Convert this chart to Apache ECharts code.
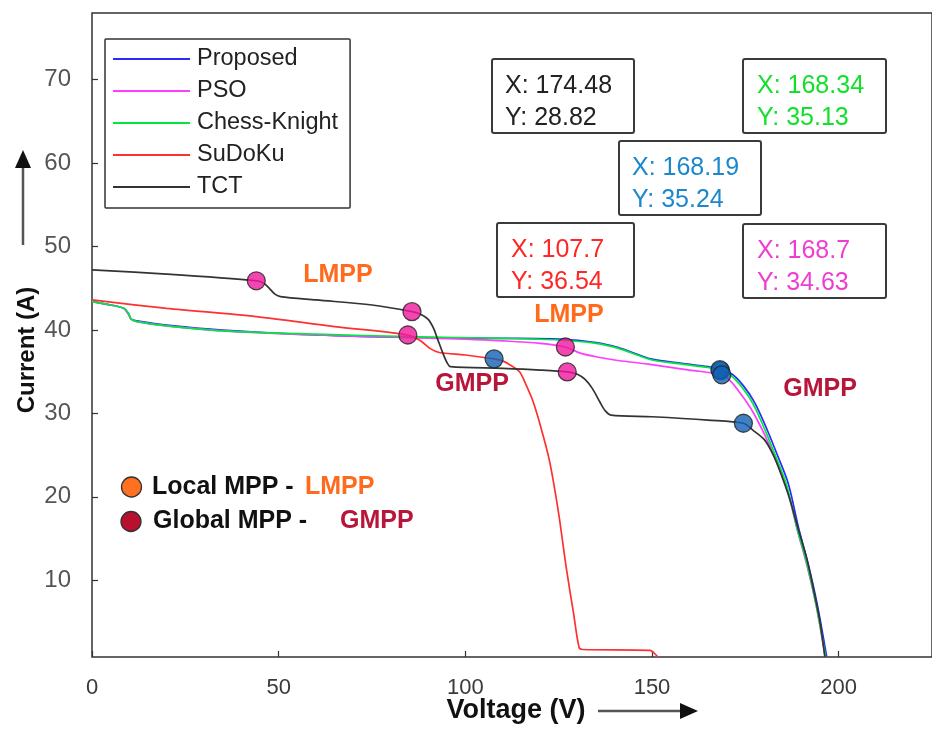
<!DOCTYPE html>
<html>
<head>
<meta charset="utf-8">
<script src="https://cdn.jsdelivr.net/npm/echarts@6/dist/echarts.min.js"></script>
<style>
  html, body { margin: 0; padding: 0; background: #fff; }
  #chart { width: 932px; height: 740px; }
</style>
</head>
<body>
<div id="chart"></div>
<script>
// I-V characteristics of the PV array under partial shading, per reconfiguration scheme.
// Each curve: [voltage (V), current (A)]
const proposed = [
  [0, 43.4], [5, 43.0], [8.5, 42.6], [9.8, 41.9], [10.5, 41.3], [12, 41.1], [20, 40.6],
  [35, 40.0], [60, 39.4], [85, 39.1], [110, 39.0], [125, 38.9], [135, 38.5], [141, 37.9],
  [146, 37.1], [150, 36.5], [158, 36.0], [165, 35.6], [168.19, 35.24], [171.5, 34.7],
  [174.5, 33.3], [177.5, 31.3], [180.5, 28.4], [183.5, 25.1], [186.5, 21.6], [189.3, 16.2],
  [191.8, 12.0], [194.3, 7.0], [196.8, 0.8]
];
const pso = [
  [0, 43.4], [5, 43.0], [8.5, 42.6], [9.8, 41.9], [10.5, 41.3], [12, 41.0], [20, 40.5],
  [35, 39.9], [60, 39.4], [85, 39.1], [100, 38.9], [110, 38.7], [120, 38.4], [126.8, 37.96],
  [131, 37.2], [136, 36.7], [140, 36.4], [149, 35.9], [160, 35.2], [168.7, 34.63], [171, 33.9],
  [174, 32.2], [177, 30.2], [180, 27.6], [183, 24.6], [186, 21.2], [189, 15.9], [191.5, 11.8],
  [194, 6.9], [196.4, 0.8]
];
const chessKnight = [
  [0, 43.4], [5, 43.0], [8.5, 42.6], [9.8, 42.0], [10.5, 41.3], [12, 41.0], [20, 40.5],
  [35, 39.9], [60, 39.5], [85, 39.2], [110, 39.0], [125, 38.8], [135, 38.4], [141, 37.8],
  [146, 37.0], [150, 36.4], [158, 35.9], [165, 35.5], [168.34, 35.13], [171, 34.6],
  [174, 33.2], [177, 31.2], [180, 28.3], [183, 25.0], [186, 21.5], [189, 16.0],
  [191.5, 12.0], [194, 7.0], [196.5, 0.8]
];
const sudoku = [
  [0, 43.6], [20, 42.6], [44, 41.6], [65, 40.4], [84.6, 39.4], [88, 38.7], [90.5, 37.8],
  [93, 37.3], [100, 37.0], [107.7, 36.54], [110, 36.3], [112, 35.8], [114.5, 35.0],
  [116, 33.7], [118, 31.6], [120, 28.7], [122.5, 24.4], [125, 18.0], [127, 11.6], [129, 6.0],
  [130.5, 1.9], [131.5, 1.7], [149.5, 1.6], [150.5, 1.3], [151.6, 0.8]
];
const tct = [
  [0, 47.2], [20, 46.7], [44, 45.9], [46, 45.6], [47.5, 45.0], [49, 44.3], [50.5, 44.0],
  [60, 43.6], [75, 43.0], [85.7, 42.2], [88, 41.9], [90, 41.3], [91.5, 40.2], [92.5, 39.0],
  [94, 37.2], [95.2, 36.0], [96, 35.6], [110, 35.4], [120, 35.2], [127.3, 34.97], [130, 34.7],
  [132, 34.1], [134, 33.0], [136, 31.4], [137.5, 30.3], [139, 29.8], [150, 29.6], [165, 29.2],
  [174.48, 28.82], [177, 28.0], [180.2, 26.8], [182.5, 25.0], [184.5, 22.8], [187, 19.6],
  [189, 16.4], [191.5, 12.5], [193.5, 8.4], [195, 5.0], [196.3, 0.8]
];

// Local maximum power points (voltage, current)
const lmppV = [44.0, 85.7, 84.6, 126.8, 127.3];
const lmppI = [45.9, 42.2, 39.4, 37.96, 34.97];

// Global maximum power points, as read by the data tips
const tipV = [174.48, 168.34, 168.19, 107.7, 168.7];
const tipI = [28.82, 35.13, 35.24, 36.54, 34.63];
const tipColors = ['#222222', '#12e02a', '#1c88cc', '#ff2626', '#ee3ed2'];

const seriesNames = ['Proposed', 'PSO', 'Chess-Knight', 'SuDoKu', 'TCT'];
const seriesData = [proposed, pso, chessKnight, sudoku, tct];
const seriesColors = ['#2a2aff', '#ff3cff', '#00e83c', '#ff3030', '#333333'];

const xTicks = [0, 50, 100, 150, 200];
const yTicks = [10, 20, 30, 40, 50, 60, 70];

const FONT = '"Liberation Sans", Arial, Helvetica, sans-serif';

const chart = echarts.init(document.getElementById('chart'), null, { renderer: 'canvas' });

const lineSeries = seriesNames.map((name, k) => ({
  name,
  type: 'line',
  data: seriesData[k],
  showSymbol: false,
  smooth: 0.3,
  lineStyle: { color: seriesColors[k], width: 1.7 },
  itemStyle: { color: seriesColors[k] },
  z: 2 + k,
  silent: true
}));

const lmppSeries = {
  name: 'LMPP points',
  type: 'scatter',
  data: lmppV.map((v, i) => [v, lmppI[i]]),
  symbolSize: 18,
  itemStyle: { color: '#f0189c', borderColor: '#222', borderWidth: 1.3 },
  z: 10,
  silent: true
};

const gmppSeries = {
  name: 'GMPP points',
  type: 'scatter',
  data: tipV.map((v, i) => [v, tipI[i]]),
  symbolSize: 18,
  itemStyle: { color: '#1262b4', borderColor: '#222', borderWidth: 1.3 },
  z: 11,
  silent: true
};

// Data-tip boxes: [left, top, width, height, textLeft]
const tipBoxes = [
  [492, 59, 142, 74, 505],
  [743, 59, 143, 74, 757],
  [619, 141, 142, 74, 632],
  [497, 223, 137, 74, 511],
  [743, 224, 143, 74, 757]
];

const graphics = [];
tipBoxes.forEach((b, i) => {
  graphics.push({
    type: 'rect',
    shape: { x: b[0], y: b[1], width: b[2], height: b[3], r: 2 },
    style: { fill: '#fff', stroke: '#3a3a3a', lineWidth: 2 },
    z: 20
  });
  graphics.push({
    type: 'text',
    x: b[4], y: b[1] + 27,
    style: {
      text: 'X: ' + tipV[i], fill: tipColors[i], font: '25px ' + FONT,
      textAlign: 'left', textVerticalAlign: 'middle'
    },
    z: 21
  });
  graphics.push({
    type: 'text',
    x: b[4], y: b[1] + 59,
    style: {
      text: 'Y: ' + tipI[i], fill: tipColors[i], font: '25px ' + FONT,
      textAlign: 'left', textVerticalAlign: 'middle'
    },
    z: 21
  });
});

// LMPP / GMPP callouts
const callouts = [
  ['LMPP', 338, 275, '#ff6a1c'],
  ['LMPP', 569, 315, '#ff6a1c'],
  ['GMPP', 472, 384, '#b8153a'],
  ['GMPP', 820, 389, '#b8153a']
];
callouts.forEach(c => {
  graphics.push({
    type: 'text', x: c[1], y: c[2],
    style: { text: c[0], fill: c[3], font: 'bold 25px ' + FONT, textAlign: 'center', textVerticalAlign: 'middle' },
    z: 15
  });
});

// Point-type key (bottom left)
graphics.push(
  { type: 'circle', shape: { cx: 131.5, cy: 487, r: 10 }, style: { fill: '#ff7020', stroke: '#333', lineWidth: 1.3 }, z: 15 },
  { type: 'text', x: 152, y: 487, style: { text: 'Local MPP -', fill: '#111', font: 'bold 25px ' + FONT, textAlign: 'left', textVerticalAlign: 'middle' }, z: 15 },
  { type: 'text', x: 305, y: 487, style: { text: 'LMPP', fill: '#ff6a1c', font: 'bold 25px ' + FONT, textAlign: 'left', textVerticalAlign: 'middle' }, z: 15 },
  { type: 'circle', shape: { cx: 131, cy: 521.5, r: 10 }, style: { fill: '#b8102e', stroke: '#333', lineWidth: 1.3 }, z: 15 },
  { type: 'text', x: 153, y: 521.5, style: { text: 'Global MPP -', fill: '#111', font: 'bold 25px ' + FONT, textAlign: 'left', textVerticalAlign: 'middle' }, z: 15 },
  { type: 'text', x: 340, y: 521.5, style: { text: 'GMPP', fill: '#b8153a', font: 'bold 25px ' + FONT, textAlign: 'left', textVerticalAlign: 'middle' }, z: 15 }
);

// Axis titles with direction arrows
graphics.push(
  { type: 'text', x: 516, y: 711, style: { text: 'Voltage (V)', fill: '#111', font: 'bold 27px ' + FONT, textAlign: 'center', textVerticalAlign: 'middle' }, z: 15 },
  { type: 'line', shape: { x1: 598, y1: 711, x2: 682, y2: 711 }, style: { stroke: '#555', lineWidth: 2.5 }, z: 15 },
  { type: 'polygon', shape: { points: [[680, 703], [698, 711], [680, 719]] }, style: { fill: '#111' }, z: 15 },
  { type: 'text', x: 27, y: 350, rotation: Math.PI / 2, style: { text: 'Current (A)', fill: '#111', font: 'bold 24px ' + FONT, textAlign: 'center', textVerticalAlign: 'middle' }, z: 15 },
  { type: 'line', shape: { x1: 23, y1: 245, x2: 23, y2: 166 }, style: { stroke: '#555', lineWidth: 2.5 }, z: 15 },
  { type: 'polygon', shape: { points: [[15, 168], [23, 150], [31, 168]] }, style: { fill: '#111' }, z: 15 }
);

chart.setOption({
  animation: false,
  backgroundColor: '#fff',
  grid: {
    left: 92, top: 13, right: 0, bottom: 83,
    show: true, borderColor: '#333', borderWidth: 1.5, backgroundColor: 'transparent'
  },
  legend: {
    data: seriesNames,
    orient: 'vertical',
    left: 105, top: 39,
    icon: 'rect',
    itemWidth: 77, itemHeight: 2,
    itemGap: 8,
    padding: [8, 12, 9, 8],
    backgroundColor: '#fff',
    borderColor: '#333', borderWidth: 1.5, borderRadius: 1,
    textStyle: { fontFamily: FONT, fontSize: 23.5, lineHeight: 24, color: '#222', padding: [0, 0, 0, 2] },
    selectedMode: false,
    z: 20
  },
  xAxis: {
    type: 'value', min: 0, max: 225, interval: 50,
    axisLine: { show: false },
    axisTick: { show: true, inside: true, length: 6, lineStyle: { color: '#333', width: 1.2 }, customValues: xTicks },
    axisLabel: {
      customValues: xTicks,
      fontFamily: FONT, fontSize: 22, color: '#3a3a3a', margin: 20,
      formatter: v => (v % 50 === 0 ? String(v) : '')
    },
    splitLine: { show: false }
  },
  yAxis: {
    type: 'value', min: 0.8, max: 78,
    axisLine: { show: false },
    axisTick: { show: true, inside: true, length: 6, lineStyle: { color: '#333', width: 1.2 }, customValues: yTicks },
    axisLabel: { customValues: yTicks, fontFamily: FONT, fontSize: 24, color: '#555', margin: 21 },
    splitLine: { show: false }
  },
  series: [...lineSeries, lmppSeries, gmppSeries],
  graphic: graphics
});
</script>
</body>
</html>
